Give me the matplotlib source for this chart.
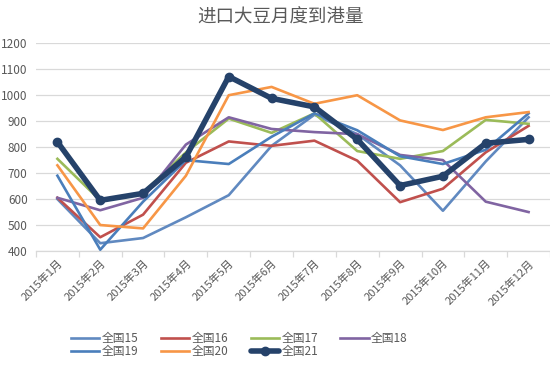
import matplotlib
matplotlib.use("Agg")
import matplotlib.pyplot as plt
import numpy as np

plt.rcParams['font.family'] = ['Noto Sans CJK SC', 'DejaVu Sans']

months = ["2015年1月", "2015年2月", "2015年3月", "2015年4月", "2015年5月", "2015年6月",
          "2015年7月", "2015年8月", "2015年9月", "2015年10月", "2015年11月", "2015年12月"]

s15 = [600, 430, 450, 530, 615, 805, 925, 850, 730, 555, 745, 915]
s16 = [605, 453, 540, 740, 822, 805, 825, 748, 588, 640, 780, 882]
s17 = [755, 595, 625, 780, 910, 855, 930, 785, 755, 785, 905, 890]
s18 = [605, 557, 605, 810, 915, 870, 858, 850, 770, 750, 590, 550]
s19 = [690, 405, 590, 750, 735, 840, 930, 865, 765, 735, 790, 930]
s20 = [730, 500, 487, 690, 1000, 1032, 967, 1000, 903, 866, 915, 935]
s21 = [820, 595, 622, 762, 1072, 988, 955, 830, 652, 688, 815, 830]

labels = ["全国15", "全国16", "全国17", "全国18", "全国19", "全国20", "全国21"]
series = [s15, s16, s17, s18, s19, s20, s21]
colors = ["#6089C0", "#C0504D", "#9BBB59", "#8064A2", "#4A7EBB", "#F79646", "#25426A"]

fig = plt.figure(figsize=(5.5, 3.66), dpi=100)
ax = fig.add_axes([36/550, 0.3142, 514/550, 0.5675])

x = np.arange(len(months))
handles = {}
for lab, s, c in zip(labels, series, colors):
    if lab == "全国21":
        h, = ax.plot(x, s, color=c, lw=4.0, marker='o', ms=6.0, solid_joinstyle='round',
                     solid_capstyle='round', zorder=5, label=lab)
    else:
        h, = ax.plot(x, s, color=c, lw=1.9, solid_joinstyle='round', zorder=3, label=lab)
    handles[lab] = h

ax.set_xlim(-0.5, 11.5)
ax.set_ylim(400, 1200)
ax.set_yticks(np.arange(400, 1201, 100))
ax.yaxis.grid(True, color="#D9D9D9", lw=0.9)
ax.set_axisbelow(True)
for sp in ["left", "right", "top"]:
    ax.spines[sp].set_visible(False)
ax.spines["bottom"].set_color("#D9D9D9")
ax.spines["bottom"].set_linewidth(0.9)

ax.tick_params(axis='y', length=0, pad=6, labelsize=8.5, labelcolor="#595959")
ax.set_xticks(x)
ax.set_xticklabels(months, rotation=45, ha='right', va='top', rotation_mode='anchor',
                   fontsize=8, color="#595959")
ax.tick_params(axis='x', which='major', length=0, pad=5)
ax.set_xticks(np.arange(-0.5, 12, 1), minor=True)
ax.tick_params(axis='x', which='minor', length=4, color="#D9D9D9", width=0.9)

fig.text(0.51, 0.952, "进口大豆月度到港量", ha='center', va='center', fontsize=13.3, color="#595959")

order = ["全国15", "全国19", "全国16", "全国20", "全国17", "全国21", "全国18"]
leg = fig.legend([handles[k] for k in order], order, ncol=4, loc='center',
                 bbox_to_anchor=(0.435, 0.057), frameon=False, fontsize=8.5,
                 handlelength=2.4, columnspacing=1.9, handletextpad=0.2, labelspacing=0.05,
                 labelcolor="#595959")

fig.savefig("out.png", dpi=100)
